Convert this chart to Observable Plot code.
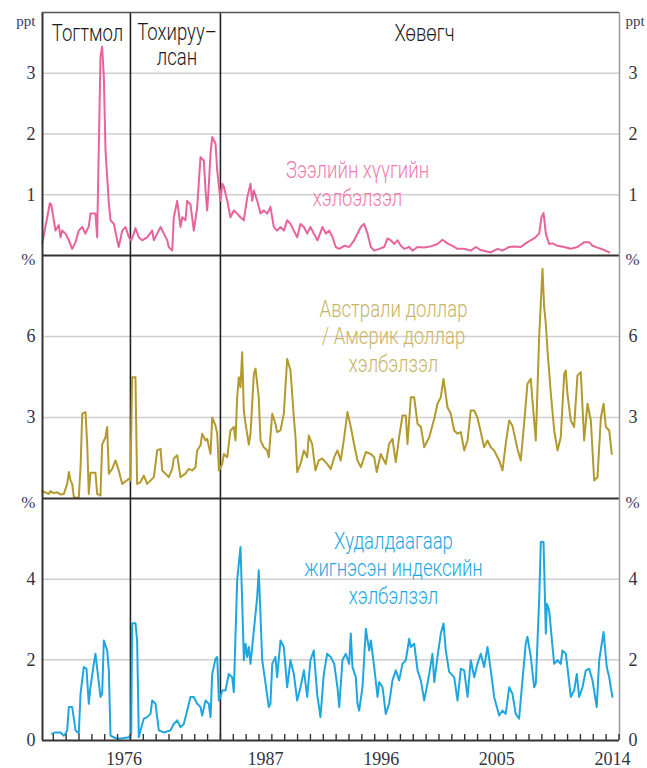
<!DOCTYPE html>
<html><head><meta charset="utf-8">
<script src="https://cdn.jsdelivr.net/npm/d3@7"></script>
<script src="https://cdn.jsdelivr.net/npm/@observablehq/plot@0.6"></script>
<style>
body{margin:0;background:#fff;}
#chart{width:647px;}
#chart svg{display:block;overflow:visible;background:transparent;}
</style></head><body><div id="chart"></div>
<script>
// ---- labels ----
const regimeLabels = ["Тогтмол", "Тохируу–\nлсан", "Хөвөгч"];
const regimeBreaks = [1977, 1984];
const yearLabels = [1976, 1987, 1996, 2005, 2014];
const seriesLabels = ["Зээлийн хүүгийн\nхэлбэлзэл", "Австрали доллар\n/ Америк доллар\nхэлбэлзэл", "Худалдаагаар\nжигнэсэн индексийн\nхэлбэлзэл"];
const units = ["ppt", "%", "%"];

// ---- interest rate volatility (ppt) ----
const rateTime = [1970.14,1970.53,1970.73,1970.84,1971.04,1971.17,1971.43,1971.56,1971.69,1971.95,1972.21,1972.47,1972.73,1972.98,1973.25,1973.5,1973.76,1973.89,1974.28,1974.41,1974.54,1974.67,1974.8,1974.93,1975.06,1975.32,1975.45,1975.71,1975.97,1976.09,1976.36,1976.62,1976.88,1977.06,1977.26,1977.39,1977.65,1977.91,1978.3,1978.69,1978.82,1979.08,1979.34,1979.6,1979.86,1979.98,1980.25,1980.37,1980.64,1980.89,1981.03,1981.28,1981.41,1981.67,1981.93,1982.19,1982.45,1982.71,1982.84,1982.97,1983.09,1983.23,1983.36,1983.62,1983.75,1984.0,1984.14,1984.27,1984.53,1984.78,1985.04,1985.3,1985.56,1985.82,1986.08,1986.34,1986.47,1986.6,1986.86,1987.12,1987.37,1987.64,1987.89,1988.15,1988.41,1988.67,1988.93,1989.19,1989.45,1989.71,1989.97,1990.23,1990.49,1990.75,1991.0,1991.26,
1991.55,1991.94,1992.2,1992.46,1992.72,1992.97,1993.24,1993.63,1994.02,1994.4,1994.92,1995.18,1995.44,1995.7,1995.96,1996.35,1996.74,1997.0,1997.25,1997.52,1997.77,1998.03,1998.29,1998.68,1998.94,1999.33,1999.85,2000.36,2000.88,2001.27,2001.66,2002.05,2002.44,2002.96,2003.47,2003.86,2004.25,2004.64,2005.03,2005.55,2005.94,2006.46,2006.85,2007.36,2007.88,2008.4,2008.79,2008.97,2009.13,2009.31,2009.57,2009.83,2010.22,2010.74,2011.25,2011.77,2012.29,2012.68,2012.94,2013.33,2013.85,2014.24];
const rateValue = [0.2,0.63,0.86,0.84,0.58,0.41,0.5,0.3,0.41,0.36,0.25,0.11,0.22,0.41,0.47,0.36,0.48,0.69,0.69,0.3,1.79,3.27,3.44,2.94,1.73,0.86,0.58,0.52,0.25,0.14,0.41,0.47,0.3,0.25,0.36,0.45,0.3,0.25,0.3,0.41,0.25,0.36,0.47,0.36,0.25,0.14,0.08,0.63,0.9,0.47,0.63,0.58,0.9,0.84,0.41,0.79,1.62,1.56,1.07,0.74,1.13,1.68,1.95,1.84,1.4,0.9,1.18,1.13,0.9,0.63,0.74,0.69,0.63,0.58,0.95,1.18,0.9,1.07,0.9,0.69,0.74,0.69,0.8,0.47,0.41,0.47,0.41,0.58,0.52,0.41,0.3,0.52,0.47,0.36,0.47,0.36,
0.25,0.47,0.36,0.41,0.3,0.14,0.11,0.16,0.14,0.25,0.47,0.52,0.36,0.14,0.08,0.11,0.14,0.28,0.25,0.19,0.25,0.16,0.11,0.14,0.08,0.14,0.13,0.15,0.19,0.26,0.2,0.16,0.11,0.11,0.08,0.14,0.09,0.07,0.05,0.11,0.08,0.14,0.15,0.14,0.22,0.28,0.36,0.63,0.7,0.36,0.19,0.2,0.16,0.14,0.11,0.14,0.22,0.22,0.16,0.13,0.09,0.05];

// ---- AUD/USD volatility (%) ----
const audTime = [1970.14,1970.65,1970.78,1971.04,1971.3,1971.56,1971.82,1972.08,1972.21,1972.34,1972.47,1972.6,1972.98,1973.12,1973.25,1973.5,1973.64,1973.76,1973.89,1974.28,1974.41,1974.67,1974.8,1975.06,1975.19,1975.32,1975.58,1975.84,1976.09,1976.36,1976.88,1977.0,1977.13,1977.39,1977.52,1977.78,1978.04,1978.3,1978.82,1979.08,1979.34,1979.47,1979.73,1979.98,1980.25,1980.37,1980.64,1980.89,1981.28,1981.54,1981.8,1982.06,1982.19,1982.45,1982.58,1982.84,1982.97,1983.23,1983.36,1983.62,1983.75,1983.88,1984.14,1984.27,1984.53,1984.78,1985.04,1985.17,1985.3,1985.43,1985.56,1985.69,1985.82,1985.95,1986.21,1986.34,1986.6,1986.73,1986.98,1987.12,1987.37,1987.64,1987.76,1988.03,1988.28,1988.41,1988.67,1988.93,1989.19,1989.45,1989.71,1989.84,1989.97,1990.23,1990.49,1990.75,1990.87,1991.13,1991.39,1991.65,1991.91,1992.3,
1992.58,1992.85,1993.1,1993.36,1993.63,1993.88,1994.14,1994.4,1994.66,1994.92,1995.31,1995.7,1995.96,1996.16,1996.47,1996.86,1997.12,1997.38,1997.64,1997.9,1998.16,1998.42,1998.55,1998.81,1999.07,1999.33,1999.59,1999.85,2000.24,2000.63,2000.88,2001.14,2001.35,2001.66,2001.92,2002.18,2002.44,2002.7,2002.96,2003.22,2003.47,2003.74,2003.99,2004.25,2004.51,2004.77,2005.03,2005.29,2005.68,2005.94,2006.19,2006.46,2006.71,2007.1,2007.36,2007.62,2007.88,2008.14,2008.27,2008.53,2008.79,2009.05,2009.18,2009.31,2009.44,2009.7,2009.96,2010.22,2010.47,2010.74,2010.86,2010.99,2011.25,2011.51,2011.77,2012.03,2012.29,2012.55,2012.81,2013.07,2013.33,2013.59,2013.8,2013.98,2014.24,2014.44];
const audValue = [0.27,0.17,0.27,0.2,0.23,0.15,0.17,0.54,0.98,0.67,0.54,0.05,0.02,1.16,3.14,3.2,2.0,0.17,0.95,0.95,0.17,0.11,2.0,2.27,2.65,0.92,1.1,1.41,1.04,0.54,0.73,0.67,4.49,4.49,0.54,0.6,0.85,0.54,0.79,1.78,1.84,1.04,0.92,0.79,1.1,1.48,1.6,0.79,0.92,1.1,1.04,1.16,1.78,1.97,2.4,2.15,2.21,1.65,3.0,2.7,2.4,1.04,1.28,1.65,1.53,2.52,2.65,2.15,3.75,4.49,4.12,5.42,3.26,2.77,2.0,2.4,4.62,4.81,3.75,2.15,1.9,1.78,1.53,3.14,2.77,2.46,2.52,3.14,5.17,4.74,3.0,2.27,0.98,1.28,1.78,1.53,2.33,2.02,1.04,1.41,1.48,1.28,
1.09,1.53,1.78,1.41,2.27,3.2,2.65,2.0,1.41,1.16,1.72,1.65,1.53,0.98,1.65,1.28,2.02,2.21,1.35,2.27,3.07,3.07,2.02,3.75,3.75,2.77,2.65,1.9,2.27,2.95,3.51,3.75,4.43,3.38,3.14,2.52,2.4,2.46,1.78,2.15,3.26,3.26,3.0,2.46,1.9,2.15,1.9,1.78,1.41,1.04,2.02,2.89,2.7,1.84,1.41,2.77,4.25,4.43,3.63,2.15,5.98,8.51,7.09,6.47,5.48,3.88,2.52,1.78,2.27,4.62,4.74,3.88,2.89,2.65,4.55,4.68,2.15,3.51,2.89,0.67,0.79,3.0,3.51,2.65,2.52,1.65];

// ---- trade-weighted index volatility (%) ----
const twiTime = [1970.91,1971.17,1971.56,1971.82,1971.95,1972.08,1972.21,1972.47,1972.73,1972.98,1973.12,1973.37,1973.58,1973.76,1973.89,1974.15,1974.28,1974.46,1974.67,1974.8,1974.93,1975.19,1975.32,1975.45,1975.71,1975.97,1976.49,1976.88,1977.06,1977.13,1977.39,1977.52,1977.65,1977.78,1978.04,1978.3,1978.56,1978.69,1978.95,1979.21,1979.6,1980.12,1980.37,1980.64,1980.89,1981.15,1981.41,1981.67,1981.93,1982.19,1982.45,1982.58,1982.84,1983.09,1983.23,1983.36,1983.62,1983.75,1983.88,1984.0,1984.14,1984.39,1984.65,1984.91,1985.04,1985.3,1985.56,1985.69,1985.82,1985.95,1986.08,1986.21,1986.34,1986.6,1986.86,1986.98,1987.25,1987.51,1987.76,1987.89,1988.03,1988.28,1988.41,1988.67,1988.93,1989.19,1989.45,1989.71,1989.97,1990.23,1990.49,1990.75,1991.0,1991.26,1991.52,1991.78,1992.04,1992.3,
1992.58,1992.85,1993.1,1993.24,1993.49,1993.75,1994.01,1994.14,1994.27,1994.53,1994.66,1994.79,1995.05,1995.31,1995.57,1995.7,1995.96,1996.22,1996.35,1996.61,1996.86,1997.12,1997.38,1997.64,1997.9,1998.16,1998.42,1998.68,1998.81,1999.07,1999.33,1999.59,1999.85,2000.24,2000.49,2000.63,2000.88,2001.14,2001.35,2001.53,2001.79,2002.18,2002.44,2002.7,2002.96,2003.22,2003.47,2003.74,2003.99,2004.25,2004.51,2004.77,2005.03,2005.29,2005.68,2005.94,2006.19,2006.46,2006.71,2006.97,2007.23,2007.49,2007.75,2007.88,2008.14,2008.4,2008.53,2008.79,2008.92,2009.13,2009.31,2009.39,2009.57,2009.83,2009.96,2010.22,2010.47,2010.6,2010.86,2010.99,2011.25,2011.51,2011.72,2011.9,2012.16,2012.42,2012.68,2012.94,2013.27,2013.46,2013.8,2014.05,2014.24,2014.36,2014.49];
const twiValue = [0.17,0.2,0.2,0.12,0.17,0.25,0.83,0.83,0.25,0.17,1.16,1.82,1.78,0.91,1.32,1.9,2.15,1.65,1.08,1.16,2.48,2.23,1.74,0.12,0.08,0.04,0.06,0.08,0.17,2.9,2.91,2.48,0.08,0.25,0.54,0.58,0.66,0.99,0.91,0.25,0.2,0.25,0.41,0.5,0.33,0.41,0.74,1.08,1.08,0.91,0.83,0.62,0.99,0.91,0.58,1.65,2.03,2.07,0.99,1.08,1.24,1.24,1.65,1.57,1.2,3.97,4.8,3.47,1.99,2.4,2.07,2.32,1.9,2.73,3.56,4.22,1.99,1.41,0.83,0.91,1.9,2.07,1.57,2.48,2.32,1.32,1.99,1.65,0.99,1.32,1.74,1.08,1.99,2.23,1.16,0.58,1.65,2.15,
2.07,1.9,1.32,0.83,1.99,2.15,1.9,2.65,1.82,1.57,0.91,0.74,1.32,2.77,2.23,2.48,1.82,1.08,1.45,1.32,0.66,0.91,1.49,1.74,1.49,1.9,1.99,2.52,2.32,2.4,1.74,1.49,0.99,1.65,2.15,1.45,2.07,2.65,2.9,2.23,1.7,1.57,0.99,1.78,1.74,1.08,1.99,1.57,1.9,2.15,1.82,2.32,1.74,1.08,0.62,0.74,0.66,1.32,1.16,0.66,0.54,1.49,2.4,2.57,2.07,1.32,1.41,3.47,4.92,4.92,2.65,3.39,3.22,2.32,1.9,1.99,1.9,2.23,2.15,1.82,1.08,1.24,1.65,1.08,1.32,1.74,1.78,1.49,0.83,1.99,2.69,1.82,1.57,1.32,1.08];

// ---- axes ----
const xDomain = [1970.16, 2015.04];
const yDomains = [[0, 4], [0, 9], [0, 6]];
const yTickValues = [[1, 2, 3], [3, 6], [0, 2, 4]];
const gridValues = [[1, 2, 3], [3, 6], [2, 4]];

const colors = ["#e8639d", "#b39a2f", "#1fa6df"];
const textColors = ["#ef7cae", "#c9b466", "#1ea8e1"];

const zip = (t, v) => t.map((d, i) => ({t: d, v: v[i]}));
const series = [zip(rateTime, rateValue), zip(audTime, audValue), zip(twiTime, twiValue)];

const SERIF = "'Liberation Serif','DejaVu Serif',serif";
const SANS = "Roboto,'Liberation Sans',sans-serif";
const TICK = "#34343f";
const tickYears = d3.range(1971, 2016);

const heights = [255, 243, 270];
const margins = [[12, 0], [0, 0], [0, 28]];
const unitDy = [9, 4, 4];
const labelPos = [
  {x: 1994.66, y: 1.19},
  {x: 1997.46, y: 6.04},
  {x: 1997.46, y: 4.29}
];

const annot = (text, opts) => Plot.text([text], {textAnchor: "middle", lineAnchor: "middle", fontFamily: SANS, fontWeight: 300, fontSize: 23, ...opts});

function panel(i) {
  const marks = [
    Plot.gridY(gridValues[i], {stroke: "#cfcfcf", strokeOpacity: 1, strokeWidth: 1.5}),
    Plot.ruleX(regimeBreaks, {stroke: "#222", strokeWidth: 1.6}),
    Plot.line(series[i], {x: "t", y: "v", stroke: colors[i], strokeWidth: 2}),
    Plot.ruleY([0], {stroke: "#333", strokeWidth: 2}),
    Plot.ruleX([xDomain[0]], {stroke: "#333", strokeWidth: 2}),
    Plot.ruleX([xDomain[1]], {stroke: "#9a9a9a", strokeWidth: 1.5}),
    Plot.text(yTickValues[i], {y: d => d, text: d => String(d), frameAnchor: "left", dx: -7, textAnchor: "end", fontFamily: SERIF, fontSize: 18, fill: TICK}),
    Plot.text(yTickValues[i], {y: d => d, text: d => String(d), frameAnchor: "right", dx: 9, textAnchor: "start", fontFamily: SERIF, fontSize: 18, fill: TICK}),
    Plot.text([units[i]], {frameAnchor: "top-left", dx: -7, dy: unitDy[i], textAnchor: "end", fontFamily: SERIF, fontSize: i === 0 ? 15 : 17, fill: "#3c3a5a", lineAnchor: "middle"}),
    Plot.text([units[i]], {frameAnchor: "top-right", dx: 6, dy: unitDy[i], textAnchor: "start", fontFamily: SERIF, fontSize: i === 0 ? 15 : 17, fill: "#3c3a5a", lineAnchor: "middle"}),
    annot(seriesLabels[i], {x: labelPos[i].x, y: labelPos[i].y, lineHeight: 1.19, fill: textColors[i]})
  ];
  if (i === 0) {
    marks.push(Plot.ruleY([yDomains[0][1]], {stroke: "#555", strokeWidth: 1.5}));
    marks.push(annot(regimeLabels[0], {x: 1973.66, y: 3.66, fill: "#1a1a1a"}));
    marks.push(annot(regimeLabels[1], {x: 1980.62, y: 3.47, lineHeight: 1.05, fill: "#1a1a1a"}));
    marks.push(annot(regimeLabels[2], {x: 1999.87, y: 3.66, fill: "#1a1a1a"}));
  }
  if (i === 2) {
    marks.push(Plot.ruleX(tickYears, {x: d => d, y1: 0, y2: 0.15, stroke: "#333", strokeWidth: 1.4}));
    marks.push(Plot.text(yearLabels, {x: d => d + 0.5, text: d => String(d), frameAnchor: "bottom", dy: 19, lineAnchor: "middle", fontFamily: SERIF, fontSize: 18, fill: TICK}));
  }
  return Plot.plot({
    width: 647,
    height: heights[i],
    marginTop: margins[i][0],
    marginBottom: margins[i][1],
    marginLeft: 42,
    marginRight: 28,
    style: {background: "transparent", overflow: "visible"},
    x: {domain: xDomain, axis: null, label: null},
    y: {domain: yDomains[i], axis: null, label: null},
    marks
  });
}

const root = document.getElementById("chart");
for (let i = 0; i < 3; i++) root.appendChild(panel(i));

// squeeze the annotation texts horizontally (the original uses a condensed face)
const target = 148; // width of "Австрали доллар" in the original
let squeeze = 0.88;
root.querySelectorAll("g[font-weight='300'] text").forEach(t => {
  const first = t.querySelector("tspan") || t;
  if (first.textContent.startsWith("Австрали")) {
    const w = first.getComputedTextLength();
    if (w > 0) squeeze = Math.min(1, target / w);
  }
});
root.querySelectorAll("g[font-weight='300'] text").forEach(t => {
  const tr = t.getAttribute("transform");
  if (tr) t.setAttribute("transform", `${tr} scale(${squeeze},1)`);
  else {
    const x = +t.getAttribute("x") || 0;
    t.setAttribute("transform", `translate(${x},0) scale(${squeeze},1) translate(${-x},0)`);
  }
});
</script>
</body></html>
